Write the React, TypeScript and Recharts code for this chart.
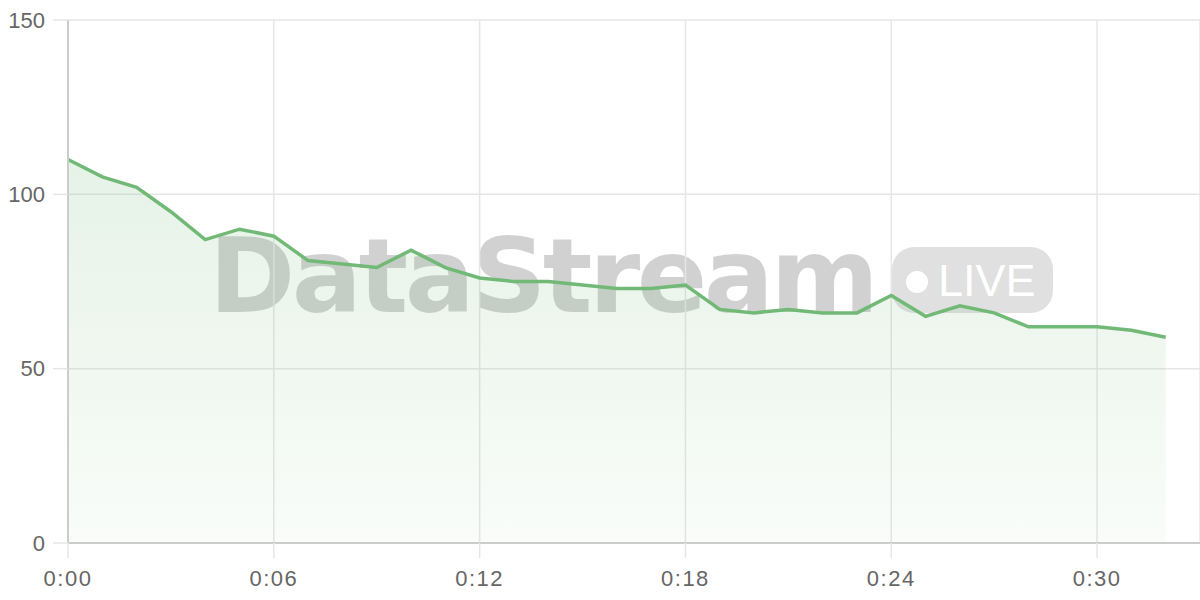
import React from "react";
import { AreaChart, Area, XAxis, YAxis, CartesianGrid } from "recharts";

// minutes since start
const MINUTES = [
  0, 1, 2, 3, 4, 5, 6, 7, 8, 9, 10, 11, 12, 13, 14, 15, 16, 17, 18, 19, 20, 21, 22, 23, 24, 25, 26, 27, 28, 29, 30, 31, 32,
];
const VALUES = [
  110, 105, 102, 95, 87, 90, 88, 81, 80, 79, 84, 79, 76, 75, 75, 74, 73, 73, 74, 67, 66, 67, 66, 66, 71, 65, 68, 66, 62, 62, 62, 61, 59,
];
const X_TICKS = [0, 6, 12, 18, 24, 30];
const Y_TICKS = [0, 50, 100, 150];

const LINE = "#72b977";
const FONT = "'Liberation Sans', Arial, sans-serif";

const data = MINUTES.map((m, i) => ({ t: m, value: VALUES[i] }));

const fmtTime = (m: number) => `0:${String(m).padStart(2, "0")}`;

function Watermark() {
  return (
    <svg width={1200} height={600} style={{ position: "absolute", left: 0, top: 0 }}>
      <text
        x={209}
        y={312}
        fontFamily="'DejaVu Sans', sans-serif"
        fontWeight={700}
        fontSize={104}
        letterSpacing={-3.5}
        fill="rgba(0,0,0,0.18)"
      >
        DataStream
      </text>
      <rect x={892} y={247} width={161} height={66} rx={22} fill="rgba(0,0,0,0.12)" />
      <circle cx={917} cy={282} r={11} fill="#fff" />
      <text x={938} y={296} fontFamily={FONT} fontSize={45} fill="#fff">
        LIVE
      </text>
    </svg>
  );
}

export default function App() {
  return (
    <div style={{ position: "absolute", left: 0, top: 0, width: 1200, height: 600, background: "#fff" }}>
      <Watermark />
      <div style={{ position: "absolute", left: 0, top: 0 }}>
        <AreaChart width={1200} height={600} data={data} margin={{ top: 20, right: 0, bottom: 0, left: 0 }}>
          <defs>
            <linearGradient id="fillGreen" x1="0" y1="0" x2="0" y2="1">
              <stop offset="0%" stopColor={LINE} stopOpacity={0.3} />
              <stop offset="100%" stopColor={LINE} stopOpacity={0.07} />
            </linearGradient>
          </defs>
          <CartesianGrid stroke="#e6e6e6" strokeWidth={1.5} />
          <XAxis
            dataKey="t"
            type="number"
            domain={[0, 33]}
            ticks={X_TICKS}
            tickFormatter={fmtTime}
            height={57}
            tickSize={15}
            tickMargin={12}
            axisLine={{ stroke: "#cccccc", strokeWidth: 2 }}
            tickLine={{ stroke: "#e6e6e6", strokeWidth: 1.5 }}
            tick={{ fill: "#666", fontSize: 22, fontFamily: FONT, letterSpacing: 1.5 }}
          />
          <YAxis
            domain={[0, 150]}
            ticks={Y_TICKS}
            width={68}
            tickSize={15}
            tickMargin={8}
            axisLine={{ stroke: "#cccccc", strokeWidth: 2 }}
            tickLine={{ stroke: "#e6e6e6", strokeWidth: 1.5 }}
            tick={{ fill: "#666", fontSize: 22, fontFamily: FONT }}
          />
          <Area
            type="linear"
            dataKey="value"
            stroke={LINE}
            strokeWidth={3.5}
            fill="url(#fillGreen)"
            dot={false}
            activeDot={false}
            isAnimationActive={false}
          />
        </AreaChart>
      </div>
    </div>
  );
}
